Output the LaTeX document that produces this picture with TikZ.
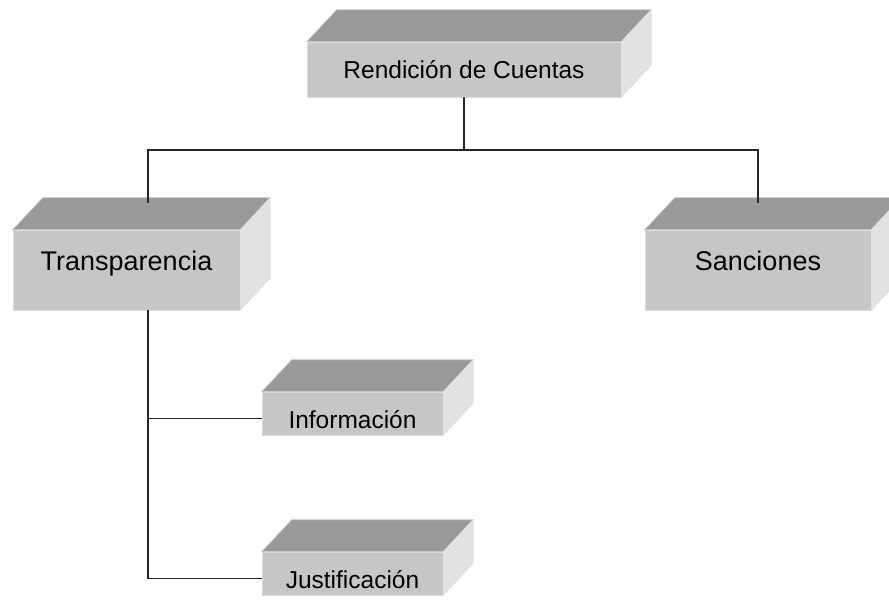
\documentclass[tikz,border=0pt]{standalone}
\usepackage{fontspec}
\setmainfont{Liberation Sans}
\usetikzlibrary{calc}
\definecolor{frente}{HTML}{C6C6C6}
\definecolor{tapa}{HTML}{999999}
\definecolor{lado}{HTML}{E2E2E2}
\tikzset{
    caja/.style={fill=frente, draw=frente!60!white, line width=0.6pt, inner sep=0pt},
    grande/.style={font=\fontsize{27}{32}\selectfont},
    chica/.style={font=\fontsize{24.5}{29}\selectfont},
    linea/.style={line width=1.2pt, black!85}
}
\begin{document}
\begin{tikzpicture}[x=1pt, y=-1pt]
\useasboundingbox (0,0) rectangle (889,603);
\clip (0,0) rectangle (889,603);
% cajas
\node[caja,chica,minimum width=314,minimum height=55,text height=17pt,text depth=0pt](rc) at (464,69.5){Rendición de Cuentas};
\node[caja,grande,minimum width=227,minimum height=80,text height=0pt,text depth=0pt](tr) at (126.5,270){Transparencia};
\node[caja,grande,minimum width=226,minimum height=80,text height=0pt,text depth=0pt](sa) at (758,270){Sanciones};
\node[caja,chica,minimum width=181,minimum height=43,text height=29pt,text depth=0pt](in) at (352.5,413.5){Información};
\node[caja,chica,minimum width=181,minimum height=43,text height=29pt,text depth=0pt](ju) at (352.5,573.5){Justificación};
\foreach \n in {rc,tr,sa,in,ju}
{
    \filldraw[fill=tapa, draw=tapa!50!white, line width=0.6pt](\n.north west)--++(30,-32)--($(\n.north east)+(30,-32)$)--(\n.north east)--cycle;
    \filldraw[fill=lado, draw=lado, line width=0.6pt](\n.north east)--++(30,-32)--($(\n.south east)+(30,-32)$)--(\n.south east)--cycle;
}
% conectores
\coordinate (barra) at (148,150);
\draw[linea](rc.south)--(rc.south |- barra);
\draw[linea]($(tr.north -| barra)+(0,-27)$)--(barra)--(barra -| sa.north)--($(sa.north)+(0,-27)$);
\draw[linea](tr.south -| barra)|-($(ju.west)+(0,5)$);
\draw[linea]($(in.west -| barra)+(0,5)$)--($(in.west)+(0,5)$);
\end{tikzpicture}
\end{document}
